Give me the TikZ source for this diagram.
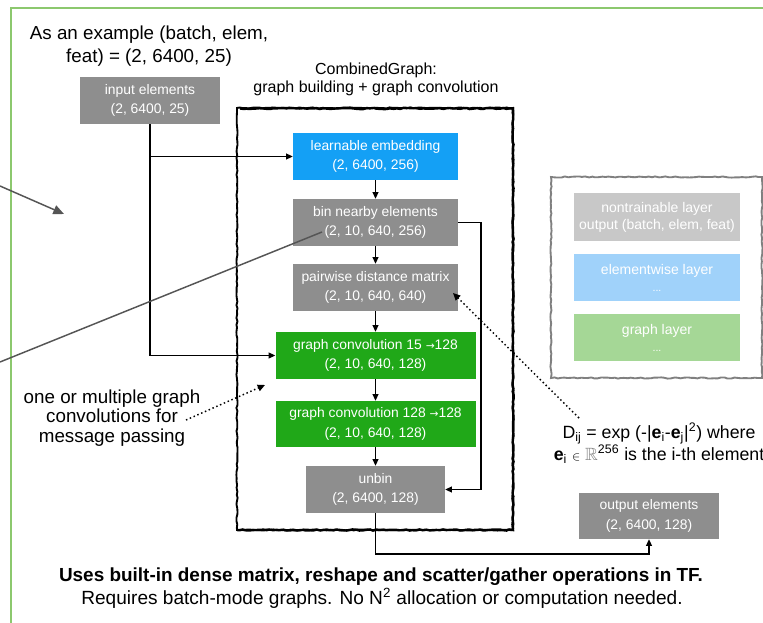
\documentclass[tikz,border=0pt]{standalone}
\usepackage{fontspec}
\usepackage{amssymb}
\setmainfont{Liberation Sans}
\newfontfamily\symf{DejaVu Sans}
\usetikzlibrary{arrows.meta,decorations.pathmorphing,calc}

\definecolor{boxgray}{RGB}{142,142,142}
\definecolor{boxblue}{RGB}{20,160,245}
\definecolor{boxgreen}{RGB}{32,168,24}
\definecolor{keygray}{RGB}{200,200,200}
\definecolor{keyblue}{RGB}{160,210,250}
\definecolor{keygreen}{RGB}{165,215,150}
\definecolor{framegreen}{RGB}{140,200,110}
\definecolor{notegray}{RGB}{85,85,85}

\begin{document}
\begin{tikzpicture}[x=0.75pt,y=-0.75pt,
  layer/.style={fill=#1, text=white, align=center, inner sep=0pt,
    font=\fontsize{10.4}{14.6}\selectfont, minimum height=35.25pt},
  keybox/.style={fill=#1, text=white, align=center, inner sep=0pt,
    font=\fontsize{10.5}{12.8}\selectfont, minimum width=124.5pt, minimum height=35.5pt},
  flow/.style={-{Triangle[length=5pt,width=4.5pt]}, line width=0.8pt},
  note/.style={notegray, line width=1.1pt},
  notearrow/.style={note, -{Triangle[length=8pt,width=7pt]}},
  hint/.style={dotted, line width=1.1pt, -{Triangle[length=5.5pt,width=5pt]}},
  sketch/.style={decorate, decoration={random steps, segment length=2.5pt, amplitude=0.45pt}},
]
\pgfmathsetseed{11}
\clip (0,0) rectangle (763,623);
\fill[white] (0,0) rectangle (763,623);

% outer green frame (continues past the right and bottom edges)
\draw[framegreen, line width=1.5pt] (11,700) -- (11,8) -- (800,8);

% headings
\node[align=center, font=\fontsize{14.1}{17.25}\selectfont] (example) at (149,46.5)
  {As an example (batch, elem,\\feat) = (2, 6400, 25)};
\node[align=center, font=\fontsize{12}{13.5}\selectfont] (cgtitle) at (376,79)
  {CombinedGraph:\\graph building + graph convolution};

% hand-drawn CombinedGraph frame
\draw[sketch, line width=1.4pt] (237,108) rectangle (513,530);
\draw[sketch, line width=1.8pt] (240,108.5) -- (513,108.5) -- (513,530) -- (237,530);

% layers
\node[layer=boxgray, minimum width=105pt] (input) at (150,100.5) {input elements\\(2, 6400, 25)};
\node[layer=boxblue, minimum width=123.75pt] (embed) at (375.5,156.5) {learnable embedding\\(2, 6400, 256)};
\node[layer=boxgray, minimum width=123.75pt] (bin) at (375.5,222.5) {bin nearby elements\\(2, 10, 640, 256)};
\node[layer=boxgray, minimum width=123.75pt] (dist) at (375.5,287.5) {pairwise distance matrix\\(2, 10, 640, 640)};
\node[layer=boxgreen, minimum width=150pt] (gcA) at (375.5,355.5) {graph convolution 15 {\symf\fontsize{8}{10}\selectfont →}128\\(2, 10, 640, 128)};
\node[layer=boxgreen, minimum width=150pt, minimum height=34.5pt] (gcB) at (375.5,424) {graph convolution 128 {\symf\fontsize{8}{10}\selectfont →}128\\(2, 10, 640, 128)};
\node[layer=boxgray, minimum width=104.25pt] (unbin) at (375.5,489.5) {unbin\\(2, 6400, 128)};
\node[layer=boxgray, minimum width=105pt, minimum height=34.5pt] (output) at (649,516) {output elements\\(2, 6400, 128)};

% data flow
\draw[flow] (input.south) |- (gcA.west);
\draw[flow] (input.south |- embed.west) -- (embed.west);
\draw[flow] (embed) -- (bin);
\draw[flow] (bin) -- (dist);
\draw[flow] (dist) -- (gcA);
\draw[flow] (gcA) -- (gcB);
\draw[flow] (gcB) -- (unbin);
\coordinate (skipx) at (481,0);
\draw[flow] (bin.east) -- (bin.east -| skipx) |- (unbin.east);
\coordinate (lowy) at (0,554);
\draw[flow] (unbin.south) -- (unbin.south |- lowy) -| (output.south);

% legend
\draw[sketch, gray, line width=1.4pt] (551,177) rectangle (762,378);
\node[keybox=keygray] (keyA) at (657,217) {nontrainable layer\\output (batch, elem, feat)};
\node[keybox=keyblue] (keyB) at (657,277.5) {elementwise layer\\\fontsize{8}{9}\selectfont ...};
\node[keybox=keygreen] (keyC) at (657,337.5) {graph layer\\\fontsize{8}{9}\selectfont ...};

% grey pointer lines
\coordinate (p1) at (0,186);
\coordinate (p2) at (64,214);
\draw[notearrow] (p1) -- (p2);
\coordinate (p3) at (322,232);
\coordinate (p4) at (0,362);
\draw[note] (p3) -- (p4);

% side notes
\node[align=center, font=\fontsize{14.1}{14.6}\selectfont] (msgnote) at (112,418)
  {one or multiple graph\\convolutions for\\message passing};
\coordinate (m1) at (186,420);
\coordinate (m2) at (265,385);
\draw[hint] (m1) -- (m2);

\node[align=center, font=\fontsize{13.3}{15}\selectfont] (distnote) at (659,443)
  {D\textsubscript{ij} = exp (-|\textbf{e}\textsubscript{i}-\textbf{e}\textsubscript{j}|\textsuperscript{2}) where\\
   \textbf{e}\textsubscript{i} {\fontsize{9}{9}\selectfont$\in$} {\color{gray}$\mathbb{R}$}\textsuperscript{256} is the i-th element};
\coordinate (d1) at (579,418);
\coordinate (d2) at (453,293);
\draw[hint] (d1) -- (d2);

% bottom remarks
\node[font=\bfseries\fontsize{14.2}{16}\selectfont] (remark1) at (381,577)
  {Uses built-in dense matrix, reshape and scatter/gather operations in TF.};
\node[font=\fontsize{14.3}{16}\selectfont] (remark2) at (382,598)
  {Requires batch-mode graphs. No N\textsuperscript{2} allocation or computation needed.};
\end{tikzpicture}
\end{document}
